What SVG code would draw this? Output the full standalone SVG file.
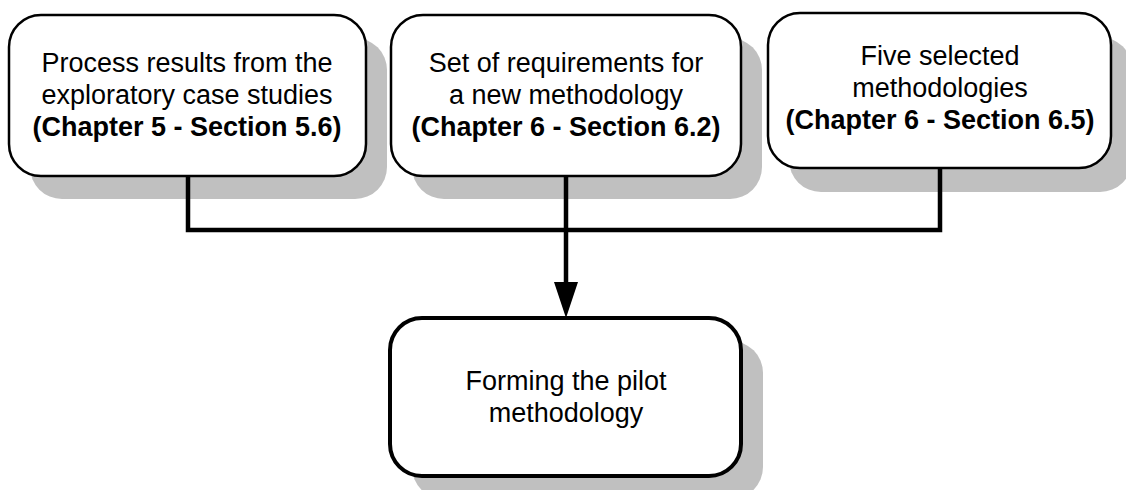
<svg xmlns="http://www.w3.org/2000/svg" width="1126" height="490" viewBox="0 0 1126 490">
<style>
.shadow{fill:#c0c0c0;stroke:none}
.box{fill:#ffffff;stroke:#000000;stroke-width:2.5}
.box4{fill:#ffffff;stroke:#000000;stroke-width:4}
text{font-family:"Liberation Sans",Arial,sans-serif;font-size:27px;fill:#000000;text-anchor:middle}
.b{font-weight:bold}
.conn{fill:none;stroke:#000000;stroke-width:4.5;stroke-linejoin:miter}
</style>
<defs>
<marker id="arrow" markerUnits="userSpaceOnUse" markerWidth="24" markerHeight="37" refX="12" refY="36" orient="auto" viewBox="0 0 24 37">
<path d="M0,0 L24,0 L12,36 Z" fill="#000000"/>
</marker>
</defs>
<g id="node1">
<rect class="shadow" x="30" y="38" width="357" height="161" rx="32"/>
<rect class="box" x="9" y="15" width="357" height="161" rx="32"/>
<text x="187" y="72">Process results from the</text>
<text x="187" y="104">exploratory case studies</text>
<text x="187" y="136" class="b">(Chapter 5 - Section 5.6)</text>
</g>
<g id="node2">
<rect class="shadow" x="412" y="38" width="350" height="161" rx="32"/>
<rect class="box" x="391" y="15" width="350" height="161" rx="32"/>
<text x="566" y="72">Set of requirements for</text>
<text x="566" y="104">a new methodology</text>
<text x="566" y="136" class="b">(Chapter 6 - Section 6.2)</text>
</g>
<g id="node3">
<rect class="shadow" x="789" y="37" width="343" height="155" rx="32"/>
<rect class="box" x="768" y="13" width="343" height="155" rx="32"/>
<text x="940" y="65">Five selected</text>
<text x="940" y="97">methodologies</text>
<text x="940" y="129" class="b">(Chapter 6 - Section 6.5)</text>
</g>
<g id="node4">
<rect class="shadow" x="412" y="341" width="351" height="158" rx="32"/>
<rect class="box4" x="390" y="318" width="351" height="158" rx="32"/>
<text x="566" y="390">Forming the pilot</text>
<text x="566" y="422">methodology</text>
</g>
<g id="connectors">
<polyline class="conn" points="188,176 188,230 940,230 940,168"/>
<line class="conn" x1="566" y1="176" x2="566" y2="284"/>
<path d="M554,282 L578,282 L566,318 Z" fill="#000000"/>
</g>
</svg>
